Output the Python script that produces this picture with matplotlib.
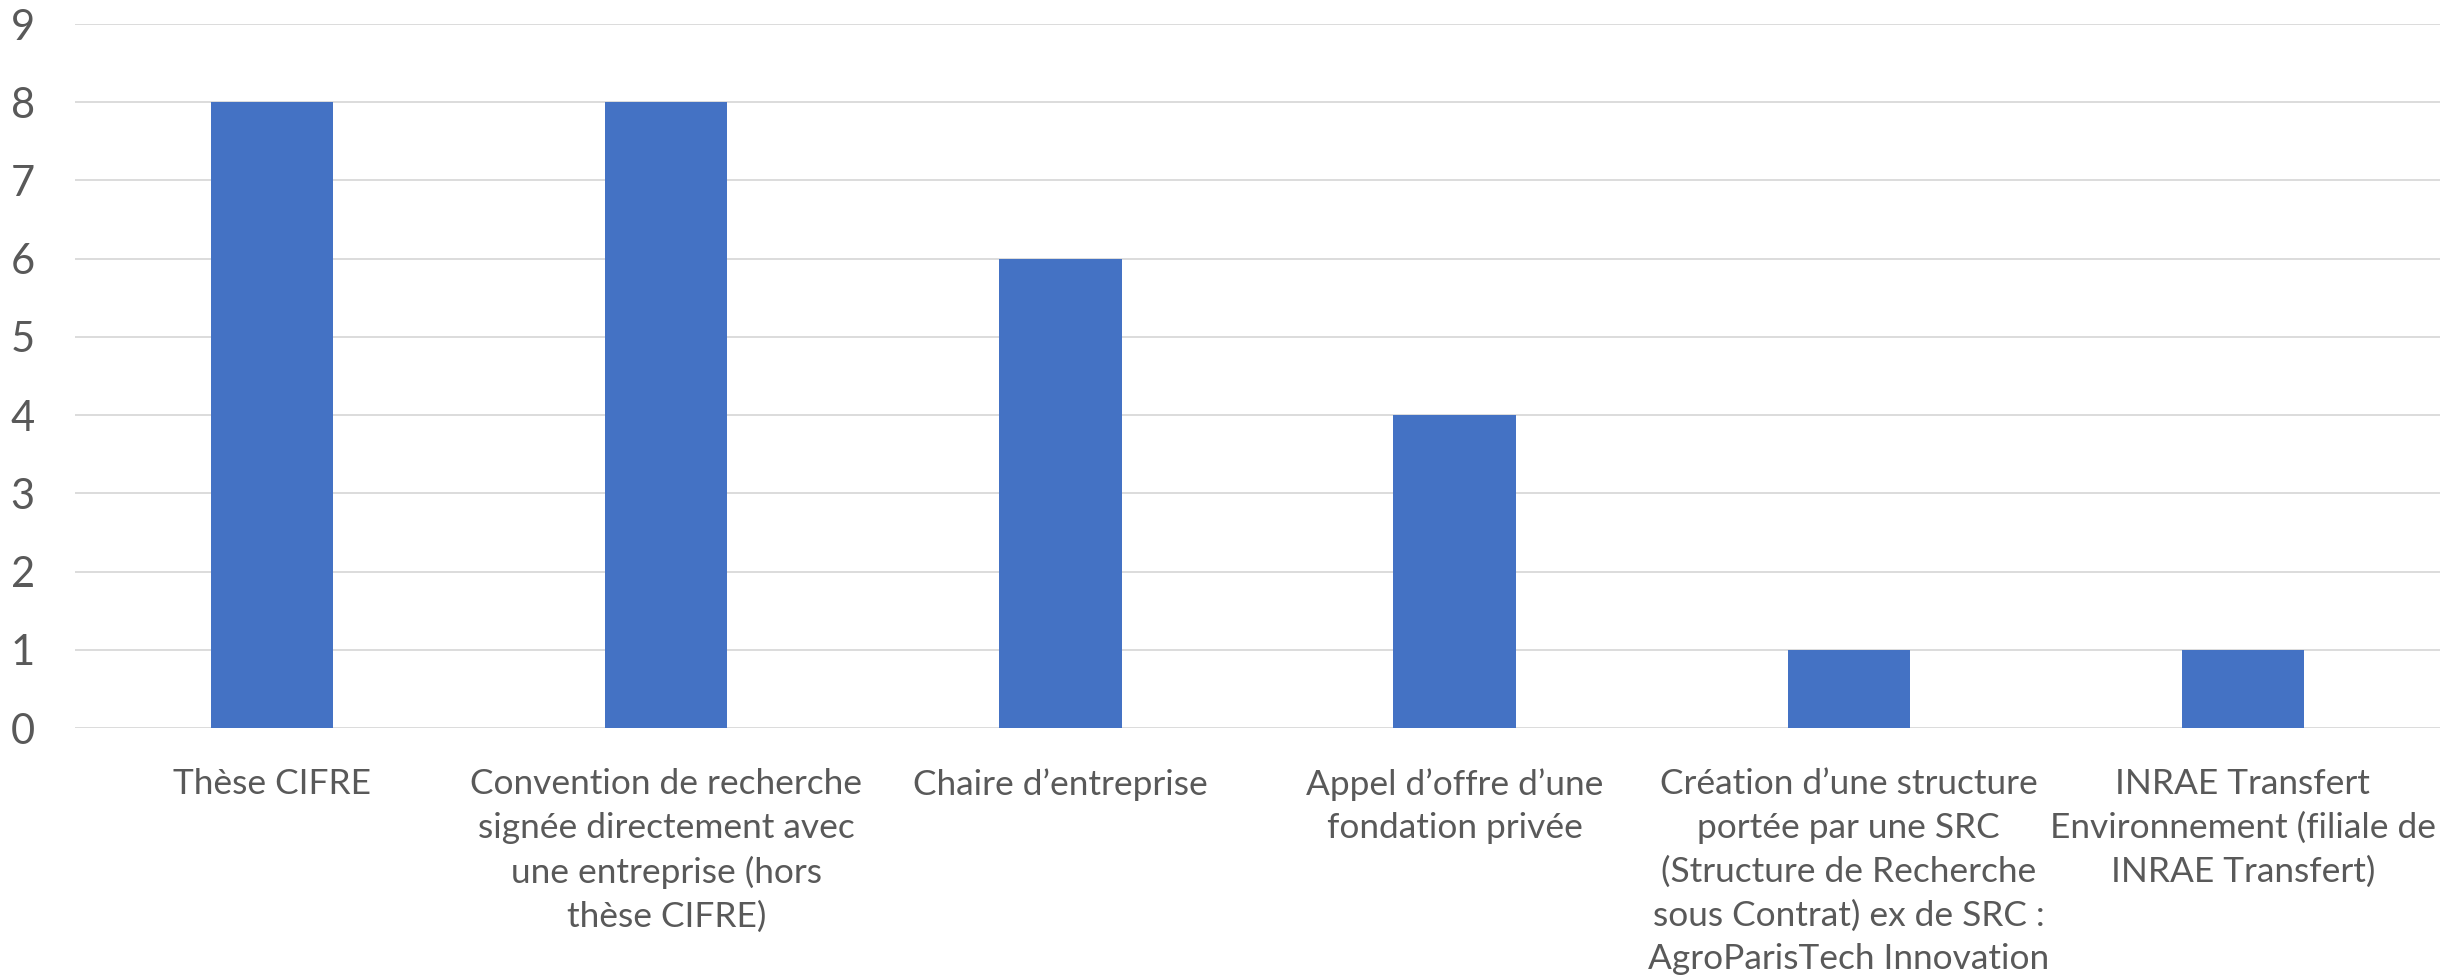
import matplotlib
matplotlib.use("Agg")
import matplotlib.pyplot as plt
import numpy as np

categories = [
    "Thèse CIFRE",
    "Convention de recherche\nsignée directement avec\nune entreprise (hors\nthèse CIFRE)",
    "Chaire d’entreprise",
    "Appel d’offre d’une\nfondation privée",
    "Création d’une structure\nportée par une SRC\n(Structure de Recherche\nsous Contrat) ex de SRC :\nAgroParisTech Innovation",
    "INRAE Transfert\nEnvironnement (filiale de\nINRAE Transfert)",
]
values = [8, 8, 6, 4, 1, 1]
yticks = list(range(0, 10))

W, H = 2440, 975
fig = plt.figure(figsize=(W / 100, H / 100), dpi=100)
left, right, top, bottom = 75, 2440, 24, 728
ax = fig.add_axes([left / W, 1 - bottom / H, (right - left) / W, (bottom - top) / H])

x = np.arange(len(categories))
ax.bar(x, values, width=0.31, color="#4472C4", zorder=3)
ax.set_xlim(-0.5, len(categories) - 0.5)
ax.set_ylim(0, 9)
ax.set_yticks(yticks)
ax.set_yticklabels([str(v) for v in yticks])
ax.yaxis.grid(True, color="#D9D9D9", linewidth=1.3, zorder=0)
ax.set_axisbelow(True)
for s in ax.spines.values():
    s.set_visible(False)
ax.tick_params(axis="y", length=0, pad=29, labelsize=30, labelcolor="#595959")
ax.tick_params(axis="x", length=0, pad=0)
ax.set_xticks(x)
ax.set_xticklabels([])
for xi, lab in zip(x, categories):
    ax.text(xi, -0.51, lab, ha="center", va="top", fontsize=25.4, color="#595959",
            linespacing=1.45, fontfamily="Lato", transform=ax.transData, clip_on=False)
for t in ax.get_yticklabels():
    t.set_fontfamily("Lato")

fig.savefig("out.png", dpi=100)
